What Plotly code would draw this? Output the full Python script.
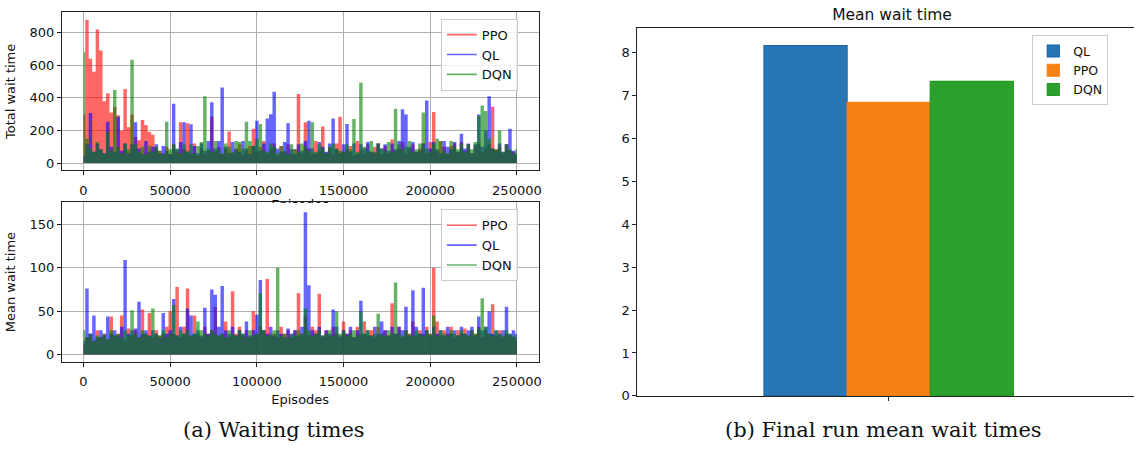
import plotly.graph_objects as go

W, H = 1137, 455


def px(x):
    return x / W


def py(y):
    return 1 - y / H


# ---------------- data ----------------
EP_STEP = 2000
episodes = [i * EP_STEP for i in range(126)]
ep_ticks = [0, 50000, 100000, 150000, 200000, 250000]

total_ppo = [
    300, 880, 640, 560, 820, 690, 380, 428, 310, 344,
    294, 200, 454, 220, 298, 160, 140, 264, 234, 190,
    174, 95, 75, 60, 100, 55, 115, 70, 250, 85,
    244, 60, 120, 45, 90, 55, 75, 284, 70, 100,
    55, 85, 194, 60, 90, 115, 50, 75, 105, 210,
    70, 100, 135, 55, 85, 120, 45, 105, 70, 115,
    55, 85, 424, 60, 250, 90, 55, 135, 75, 224,
    65, 90, 55, 120, 284, 70, 85, 105, 45, 135,
    75, 55, 115, 70, 100, 120, 55, 105, 60, 145,
    75, 90, 130, 55, 85, 115, 70, 90, 120, 60,
    130, 314, 75, 135, 100, 55, 105, 120, 70, 130,
    75, 115, 60, 105, 120, 70, 90, 115, 345, 85,
    100, 55, 115, 75, 70, 45,
]
total_ql = [
    45, 115, 308, 70, 120, 85, 60, 254, 100, 70,
    284, 75, 120, 60, 115, 250, 90, 55, 135, 70,
    100, 115, 60, 105, 75, 55, 364, 85, 130, 250,
    70, 238, 105, 60, 120, 75, 135, 374, 90, 135,
    464, 100, 60, 130, 85, 70, 135, 90, 55, 105,
    260, 75, 120, 274, 300, 438, 90, 70, 130, 244,
    85, 55, 115, 75, 135, 260, 90, 60, 130, 100,
    70, 120, 274, 85, 60, 115, 240, 70, 120, 55,
    115, 90, 130, 70, 60, 120, 90, 115, 75, 120,
    85, 135, 330, 298, 100, 130, 70, 75, 120, 384,
    90, 130, 85, 60, 135, 100, 85, 130, 70, 180,
    90, 120, 60, 115, 298, 100, 200, 410, 90, 75,
    120, 70, 115, 210, 75, 55,
]
total_dqn = [
    680, 150, 90, 70, 130, 85, 60, 190, 75, 448,
    100, 60, 120, 85, 634, 115, 70, 100, 55, 105,
    70, 100, 75, 55, 254, 85, 115, 90, 60, 120,
    75, 115, 60, 105, 130, 410, 90, 70, 135, 85,
    60, 120, 100, 70, 135, 130, 90, 254, 135, 105,
    150, 240, 75, 70, 120, 100, 60, 105, 75, 55,
    115, 85, 70, 120, 100, 75, 250, 70, 115, 90,
    60, 100, 120, 90, 75, 70, 115, 85, 270, 70,
    494, 100, 75, 135, 70, 120, 90, 75, 130, 70,
    334, 115, 85, 100, 135, 70, 85, 120, 310, 90,
    70, 120, 150, 135, 75, 60, 135, 100, 85, 120,
    70, 115, 85, 130, 290, 354, 320, 150, 90, 85,
    200, 70, 115, 85, 60, 85,
]

mean_ppo = [
    12, 20, 24, 16, 28, 20, 24, 18, 44, 22,
    24, 45, 16, 30, 22, 28, 20, 52, 24, 48,
    20, 28, 22, 24, 32, 50, 24, 78, 20, 32,
    76, 22, 45, 24, 20, 32, 24, 28, 55, 22,
    24, 38, 20, 73, 24, 32, 22, 28, 20, 50,
    24, 32, 28, 87, 22, 24, 20, 32, 24, 28,
    20, 28, 71, 24, 45, 22, 32, 28, 70, 20,
    28, 22, 32, 24, 20, 38, 24, 28, 20, 32,
    24, 38, 22, 28, 20, 32, 24, 28, 22, 59,
    24, 32, 20, 28, 24, 38, 22, 28, 24, 32,
    24, 100, 38, 22, 28, 24, 32, 20, 28, 24,
    30, 22, 28, 24, 32, 20, 28, 24, 58, 22,
    28, 20, 24, 22, 20, 16,
]
mean_ql = [
    16, 76, 24, 45, 20, 28, 22, 44, 24, 28,
    22, 32, 109, 24, 28, 30, 61, 24, 28, 22,
    28, 24, 20, 48, 24, 28, 64, 22, 32, 24,
    53, 45, 24, 28, 22, 54, 24, 75, 69, 32,
    79, 28, 24, 32, 22, 28, 24, 38, 22, 28,
    46, 86, 28, 24, 32, 22, 28, 24, 20, 30,
    24, 28, 22, 32, 167, 80, 28, 24, 32, 22,
    28, 24, 52, 32, 22, 28, 24, 32, 20, 28,
    62, 24, 28, 22, 32, 24, 38, 28, 22, 32,
    24, 32, 28, 55, 22, 74, 32, 24, 77, 28,
    22, 32, 24, 28, 22, 32, 24, 28, 22, 32,
    24, 28, 32, 22, 44, 28, 32, 50, 24, 28,
    24, 28, 55, 24, 28, 24,
]
mean_dqn = [
    28, 20, 24, 16, 22, 20, 24, 18, 28, 22,
    24, 20, 28, 22, 51, 24, 20, 28, 24, 22,
    53, 24, 22, 28, 20, 24, 57, 22, 28, 24,
    28, 22, 24, 38, 28, 24, 22, 28, 24, 22,
    24, 20, 28, 24, 22, 28, 24, 20, 28, 22,
    24, 71, 28, 22, 24, 28, 100, 22, 24, 20,
    24, 22, 28, 24, 53, 28, 22, 24, 28, 22,
    24, 28, 22, 50, 24, 28, 22, 24, 28, 22,
    50, 24, 28, 22, 24, 47, 24, 22, 28, 24,
    83, 24, 22, 28, 24, 22, 28, 24, 22, 28,
    24, 45, 22, 28, 24, 22, 28, 24, 22, 28,
    24, 22, 28, 24, 30, 65, 32, 24, 22, 28,
    24, 22, 28, 24, 22, 20,
]

bar_methods = ["QL", "PPO", "DQN"]
bar_means = [8.16, 6.84, 7.33]

# ---------------- styles ----------------
series_names = ["PPO", "QL", "DQN"]
series_colors = ["rgba(255,0,0,0.6)", "rgba(0,0,255,0.6)", "rgba(0,128,0,0.6)"]
bar_fill = ["#2877b4", "#f58013", "#2ca02c"]
bar_edge = ["#1c62a6", "#ff7f0e", "#209a26"]

FONT = "DejaVu Sans"
TXT = "#111111"
GRID = "#b0b0b0"
SPINE = "#222222"

fig = go.Figure()

panels = [
    ("x", "y", [total_ppo, total_ql, total_dqn], "legend"),
    ("x2", "y2", [mean_ppo, mean_ql, mean_dqn], "legend2"),
]
for xa, ya, vals, leg in panels:
    for name, color, v in zip(series_names, series_colors, vals):
        fig.add_trace(go.Scatter(
            x=episodes, y=v, mode="lines",
            line=dict(width=0, shape="hvh"),
            fill="tozeroy", fillcolor=color,
            xaxis=xa, yaxis=ya, showlegend=False, hoverinfo="skip"))
    for name, color in zip(series_names, series_colors):
        fig.add_trace(go.Scatter(
            x=[None], y=[None], mode="lines", name=name,
            line=dict(width=1.6, color=color),
            xaxis=xa, yaxis=ya, legend=leg))

for m, v, fc, ec in zip(bar_methods, bar_means, bar_fill, bar_edge):
    fig.add_trace(go.Bar(
        x=[0], y=[v], name=m,
        marker=dict(color=fc, line=dict(color=ec, width=1.2)),
        xaxis="x3", yaxis="y3", legend="legend3"))

# helper (empty) trace for the half-hidden "Episodes" label of the top panel
fig.add_trace(go.Scatter(x=[None], y=[None], xaxis="x4", yaxis="y",
                         showlegend=False, hoverinfo="skip"))

tick_font = dict(family=FONT, size=13, color=TXT)
title_font = dict(family=FONT, size=13, color=TXT)

common_left = dict(
    showline=True, linecolor=SPINE, linewidth=1, mirror=True,
    ticks="outside", ticklen=4, tickcolor=SPINE, tickwidth=1,
    showgrid=True, gridcolor=GRID, gridwidth=1, zeroline=False,
    tickfont=tick_font,
)

x_dom = [px(62), px(540)]
fig.update_layout(
    width=W, height=H,
    margin=dict(l=0, r=0, t=0, b=0),
    paper_bgcolor="white", plot_bgcolor="white",
    barmode="group", bargap=0.25, bargroupgap=0,
    xaxis=dict(domain=x_dom, anchor="y", range=[-12500, 262500],
               tickvals=ep_ticks, ticktext=[str(t) for t in ep_ticks],
               ticklabelstandoff=4, **common_left),
    yaxis=dict(domain=[py(173.3), py(12.7)], anchor="x", range=[-44, 924],
               tickvals=[0, 200, 400, 600, 800],
               title=dict(text="Total wait time", font=title_font, standoff=10),
               **common_left),
    xaxis2=dict(domain=x_dom, anchor="y2", range=[-12500, 262500],
                tickvals=ep_ticks, ticktext=[str(t) for t in ep_ticks],
                ticklabelstandoff=4,
                title=dict(text="Episodes", font=title_font, standoff=6),
                **common_left),
    yaxis2=dict(domain=[py(368.3), py(206)], anchor="x2", range=[-8.35, 175.35],
                tickvals=[0, 50, 100, 150],
                title=dict(text="Mean wait time", font=title_font, standoff=10),
                **common_left),
    xaxis3=dict(domain=[px(639), 1.0], anchor="y3", range=[-0.756, 0.738],
                tickvals=[0], ticktext=[""], ticks="outside", ticklen=4,
                tickcolor=SPINE, showline=True, mirror=True, linecolor=SPINE,
                linewidth=1, showgrid=False, zeroline=False),
    yaxis3=dict(domain=[py(403), py(29)], anchor="x3", range=[0, 8.56],
                tickvals=list(range(9)), ticks="outside", ticklen=4,
                tickcolor=SPINE, showline=True, linecolor=SPINE, linewidth=1,
                showgrid=False, zeroline=False, tickfont=tick_font),
    xaxis4=dict(overlaying="x", anchor="y", side="bottom", range=[-12500, 262500],
                tickvals=[125000], ticktext=["Episodes"], ticks="outside",
                ticklen=22, tickcolor="rgba(0,0,0,0)", showline=False,
                showgrid=False, zeroline=False,
                tickfont=dict(family=FONT, size=13, color=TXT)),
    title=dict(text="Mean wait time", x=px(892), xanchor="center",
               y=py(15), yanchor="middle",
               font=dict(family=FONT, size=15.5, color=TXT)),
    legend=dict(x=px(442), xanchor="left", y=py(19), yanchor="top",
                bordercolor="#cccccc", borderwidth=1,
                bgcolor="rgba(255,255,255,0.8)",
                font=dict(family=FONT, size=13, color=TXT)),
    legend2=dict(x=px(442), xanchor="left", y=py(213), yanchor="top",
                 bordercolor="#cccccc", borderwidth=1,
                 bgcolor="rgba(255,255,255,0.8)",
                 font=dict(family=FONT, size=13, color=TXT)),
    legend3=dict(x=px(1035), xanchor="left", y=py(36), yanchor="top",
                 bordercolor="#cccccc", borderwidth=1,
                 bgcolor="rgba(255,255,255,0.8)",
                 font=dict(family=FONT, size=12.5, color=TXT)),
    shapes=[dict(type="rect", xref="paper", yref="paper", layer="above",
                 x0=px(262), x1=px(342), y0=py(216), y1=py(206.7),
                 fillcolor="white", line=dict(width=0))],
    annotations=[
        dict(text="(a) Waiting times", x=px(275), y=py(438), xref="paper",
             yref="paper", showarrow=False, xanchor="center", yanchor="middle",
             font=dict(family="DejaVu Serif", size=21, color="#111111")),
        dict(text="(b) Final run mean wait times", x=px(886), y=py(438),
             xref="paper", yref="paper", showarrow=False, xanchor="center",
             yanchor="middle",
             font=dict(family="DejaVu Serif", size=21, color="#111111")),
    ],
)

fig.write_html(
    "out.html",
    config={"displayModeBar": False},
    post_script="document.body.style.margin='0';document.body.style.overflow='hidden';",
)
